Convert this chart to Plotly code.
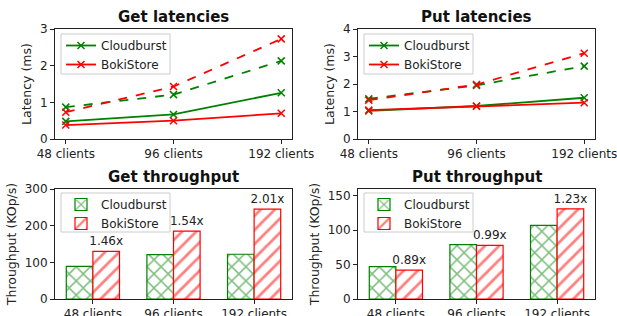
import plotly.graph_objects as go

W, H = 617, 316
categories = ["48 clients", "96 clients", "192 clients"]

# Get latencies (ms)
get_cb_solid = [0.48, 0.67, 1.26]
get_cb_dashed = [0.87, 1.21, 2.13]
get_bk_solid = [0.38, 0.50, 0.70]
get_bk_dashed = [0.73, 1.43, 2.73]

# Put latencies (ms)
put_cb_solid = [1.02, 1.20, 1.50]
put_cb_dashed = [1.46, 1.95, 2.65]
put_bk_solid = [1.05, 1.19, 1.32]
put_bk_dashed = [1.41, 1.98, 3.12]

# Throughput (KOp/s)
get_tp_cb = [89, 121, 122]
get_tp_bk = [130, 185, 245]
get_ratio = ["1.46x", "1.54x", "2.01x"]
put_tp_cb = [47, 79, 107]
put_tp_bk = [42, 78, 131]
put_ratio = ["0.89x", "0.99x", "1.23x"]

GREEN = "#008000"
RED = "#ff0000"
FONT = "DejaVu Sans"

def px_x(a, b):
    return [a / W, b / W]

def px_y(top, bottom):
    return [1 - bottom / H, 1 - top / H]

fig = go.Figure()

def line(x, y, color, dash, name, xa, ya, legend, show):
    fig.add_trace(go.Scatter(
        x=x, y=y, mode="lines+markers", name=name,
        line=dict(color=color, width=1.8, dash=dash),
        marker=dict(symbol="x-thin", size=7, line=dict(color=color, width=1.5)),
        xaxis=xa, yaxis=ya, legend=legend, showlegend=show))

# top-left
line(categories, get_cb_solid, GREEN, "solid", "Cloudburst", "x", "y", "legend", True)
line(categories, get_bk_solid, RED, "solid", "BokiStore", "x", "y", "legend", True)
line(categories, get_cb_dashed, GREEN, "dash", "Cloudburst", "x", "y", "legend", False)
line(categories, get_bk_dashed, RED, "dash", "BokiStore", "x", "y", "legend", False)
# top-right
line(categories, put_cb_solid, GREEN, "solid", "Cloudburst", "x2", "y2", "legend2", True)
line(categories, put_bk_solid, RED, "solid", "BokiStore", "x2", "y2", "legend2", True)
line(categories, put_cb_dashed, GREEN, "dash", "Cloudburst", "x2", "y2", "legend2", False)
line(categories, put_bk_dashed, RED, "dash", "BokiStore", "x2", "y2", "legend2", False)

def bars(cb, bk, ratio, xa, ya, legend):
    fig.add_trace(go.Bar(
        x=categories, y=cb, name="Cloudburst", xaxis=xa, yaxis=ya, legend=legend,
        offsetgroup="cb",
        marker=dict(color="white", line=dict(color=GREEN, width=1.2),
                    pattern=dict(shape="x", fgcolor=GREEN, bgcolor="white",
                                 size=10, solidity=0.28, fillmode="overlay"))))
    fig.add_trace(go.Bar(
        x=categories, y=bk, name="BokiStore", xaxis=xa, yaxis=ya, legend=legend,
        offsetgroup="bk", text=ratio, textposition="outside", cliponaxis=False,
        constraintext="none", textangle=0,
        textfont=dict(family=FONT, size=12, color="#222"),
        marker=dict(color="white", line=dict(color=RED, width=1.2),
                    pattern=dict(shape="/", fgcolor=RED, bgcolor="white",
                                 size=10, solidity=0.28, fillmode="overlay"))))

bars(get_tp_cb, get_tp_bk, get_ratio, "x3", "y3", "legend3")
bars(put_tp_cb, put_tp_bk, put_ratio, "x4", "y4", "legend4")

axis_common = dict(showline=True, linecolor="#222", linewidth=1, mirror=True,
                   ticks="outside", ticklen=4, tickcolor="#222", showgrid=False,
                   zeroline=False, automargin=False,
                   tickfont=dict(family=FONT, size=12, color="#222"))

L1, R1 = 55, 292
L2, R2 = 358, 595
T1, B1 = 29, 139
T2, B2 = 189, 299

fig.update_layout(
    width=W, height=H, margin=dict(l=0, r=0, t=0, b=0),
    paper_bgcolor="white", plot_bgcolor="white",
    font=dict(family=FONT, size=12, color="#222"),
    barmode="group", bargap=0.34, bargroupgap=0,
    xaxis=dict(domain=px_x(L1, R1), anchor="y", type="category", range=[-0.1, 2.1], **axis_common),
    yaxis=dict(domain=px_y(T1, B1), anchor="x", range=[0, 3], dtick=1,
               title=dict(text="Latency (ms)", standoff=5, font=dict(size=12.5)), **axis_common),
    xaxis2=dict(domain=px_x(L2, R2), anchor="y2", type="category", range=[-0.1, 2.1], **axis_common),
    yaxis2=dict(domain=px_y(T1, B1), anchor="x2", range=[0, 4], dtick=1,
                title=dict(text="Latency (ms)", standoff=5, font=dict(size=12.5)), **axis_common),
    xaxis3=dict(domain=px_x(L1, R1), anchor="y3", type="category", range=[-0.47, 2.47], **axis_common),
    yaxis3=dict(domain=px_y(T2, B2), anchor="x3", range=[0, 300], dtick=100,
                title=dict(text="Throughput (KOp/s)", standoff=5, font=dict(size=12.5)), **axis_common),
    xaxis4=dict(domain=px_x(L2, R2), anchor="y4", type="category", range=[-0.47, 2.47], **axis_common),
    yaxis4=dict(domain=px_y(T2, B2), anchor="x4", range=[0, 160], dtick=50,
                title=dict(text="Throughput (KOp/s)", standoff=5, font=dict(size=12.5)), **axis_common),
)

# legend frames (matplotlib-style box), legends themselves drawn without border
frames = [(61, 34, 170, 74), (364, 34, 473, 74), (61, 193, 170, 232), (364, 193, 473, 232)]
for x0, y0, x1, y1 in frames:
    fig.add_shape(type="rect", xref="paper", yref="paper", layer="above",
                  x0=x0 / W, x1=x1 / W, y0=1 - y1 / H, y1=1 - y0 / H,
                  line=dict(color="#cccccc", width=1), fillcolor="rgba(255,255,255,0.8)")

def legend_at(xp, yp):
    return dict(x=xp / W, y=1 - yp / H, xanchor="left", yanchor="top",
                bgcolor="rgba(0,0,0,0)", borderwidth=0,
                font=dict(family=FONT, size=12, color="#222"), itemwidth=30,
                tracegroupgap=0)

fig.update_layout(legend=legend_at(61, 31), legend2=legend_at(364, 31),
                  legend3=legend_at(61, 190), legend4=legend_at(364, 190))

titles = [("Get latencies", (L1 + R1) / 2, 17), ("Put latencies", (L2 + R2) / 2, 17),
          ("Get throughput", (L1 + R1) / 2, 177), ("Put throughput", (L2 + R2) / 2, 177)]
for t, cx, cy in titles:
    fig.add_annotation(text="<b>%s</b>" % t, x=cx / W, y=1 - cy / H, xref="paper", yref="paper",
                       xanchor="center", yanchor="middle", showarrow=False,
                       font=dict(family=FONT, size=15, color="#111"))

fig.write_html("out.html", config={"displayModeBar": False},
               post_script="document.body.style.margin='0';document.body.style.padding='0';")
